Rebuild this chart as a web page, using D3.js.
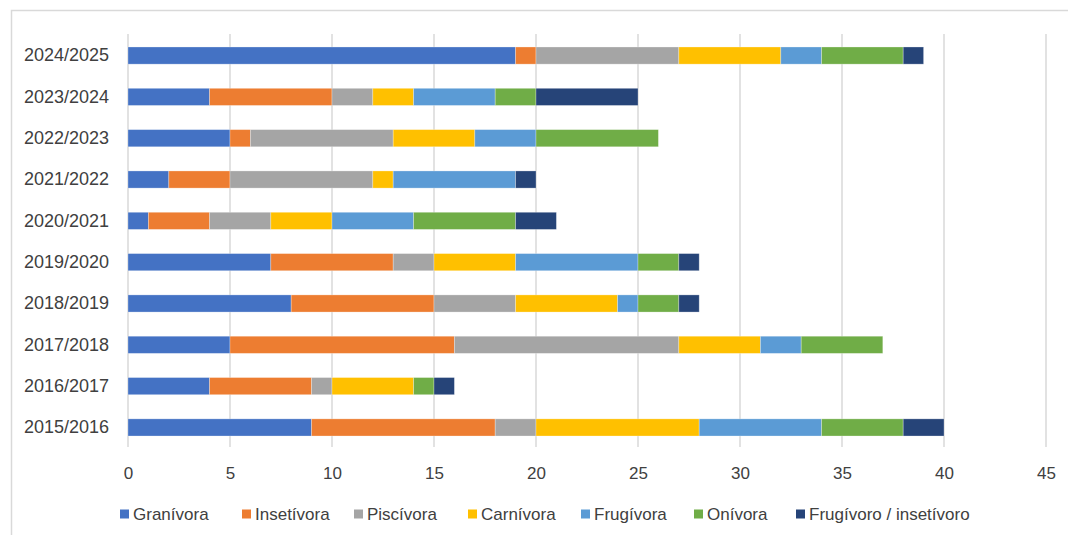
<!DOCTYPE html>
<html><head><meta charset="utf-8">
<script src="https://cdn.jsdelivr.net/npm/d3@7"></script>
<style>body{margin:0;background:#fff}svg{display:block;font-family:"Liberation Sans",Arial,sans-serif}</style>
</head><body><svg id="c" width="1068" height="535"></svg>
<script>
const categories = ["2024/2025","2023/2024","2022/2023","2021/2022","2020/2021","2019/2020","2018/2019","2017/2018","2016/2017","2015/2016"];
const seriesNames = ["Granívora","Insetívora","Piscívora","Carnívora","Frugívora","Onívora","Frugívoro / insetívoro"];
const granivora   = [19,4,5,2,1,7,8,5,4,9];
const insetivora  = [1,6,1,3,3,6,7,11,5,9];
const piscivora   = [7,2,7,7,3,2,4,11,1,2];
const carnivora   = [5,2,4,1,3,4,5,4,4,8];
const frugivora   = [2,4,3,6,4,6,1,2,0,6];
const onivora     = [4,2,6,0,5,2,2,4,1,4];
const frugInset   = [1,5,0,1,2,1,1,0,1,2];
const xTicks = [0,5,10,15,20,25,30,35,40,45];
const colors = ["#4472C4","#ED7D31","#A5A5A5","#FFC000","#5B9BD5","#70AD47","#264478"];

const seriesValues = [granivora,insetivora,piscivora,carnivora,frugivora,onivora,frugInset];
const rows = categories.map((c,i)=>{const o={cat:c}; seriesNames.forEach((s,j)=>o[s]=seriesValues[j][i]); return o;});
const stacked = d3.stack().keys(seriesNames)(rows);

const svg = d3.select("#c");
svg.append("rect").attr("x",11.5).attr("y",10.5).attr("width",1070).attr("height",540)
  .attr("fill","none").attr("stroke","#d9d9d9").attr("stroke-width",1.5);

const x = d3.scaleLinear().domain([0,45]).range([128,1046]);
const y = d3.scaleBand().domain(categories).range([35,448]).paddingInner(0.585).paddingOuter(0.29);

// gridlines
svg.append("g").selectAll("line").data(xTicks).join("line")
  .attr("x1",d=>x(d)).attr("x2",d=>x(d)).attr("y1",34).attr("y2",447)
  .attr("stroke","#d9d9d9").attr("stroke-width",1.5);

// bars
svg.append("g").selectAll("g").data(stacked).join("g")
  .attr("fill",(d,i)=>colors[i])
  .selectAll("rect").data(d=>d.filter(p=>p[1]>p[0])).join("rect")
  .attr("x",d=>x(d[0])).attr("width",d=>x(d[1])-x(d[0]))
  .attr("y",d=>y(d.data.cat)).attr("height",y.bandwidth())
  .attr("stroke","#ffffff").attr("stroke-opacity",0.35).attr("stroke-width",0.8);

// x axis labels
const xa = svg.append("g").attr("transform","translate(0,474)")
  .call(d3.axisBottom(x).tickValues(xTicks).tickSize(0).tickPadding(0));
xa.select(".domain").remove();
xa.selectAll("text").attr("font-size",17).attr("fill","#404040").attr("dy","0.32em")
  .attr("font-family","Liberation Sans, Arial, sans-serif");

// y axis labels
const ya = svg.append("g").attr("transform","translate(109,0)")
  .call(d3.axisLeft(y).tickSize(0).tickPadding(0));
ya.select(".domain").remove();
ya.selectAll("text").attr("font-size",18).attr("fill","#404040")
  .attr("font-family","Liberation Sans, Arial, sans-serif");

// legend
const legX = [120,242,354,468,581,694,796];
const leg = svg.append("g").selectAll("g").data(seriesNames).join("g")
  .attr("transform",(d,i)=>`translate(${legX[i]},514)`);
leg.append("rect").attr("x",0).attr("y",-4.5).attr("width",9).attr("height",9).attr("fill",(d,i)=>colors[i]);
leg.append("text").attr("x",13).attr("dy","0.35em").attr("font-size",17).attr("fill","#404040").text(d=>d);
</script></body></html>
